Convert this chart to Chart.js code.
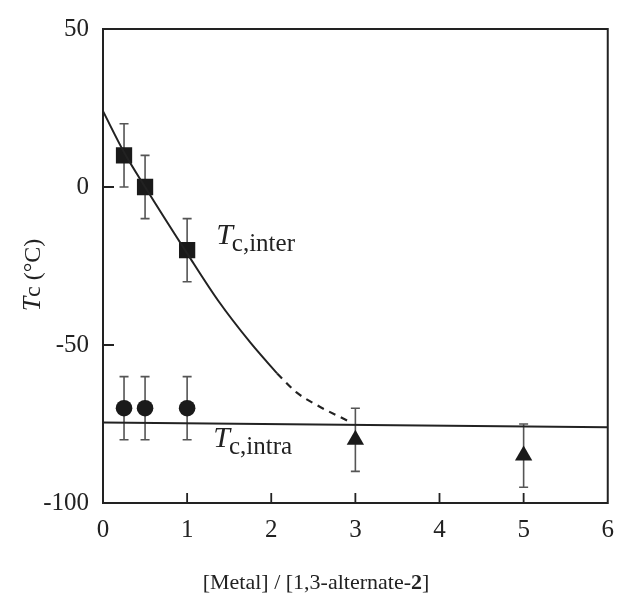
<!DOCTYPE html>
<html>
<head>
<meta charset="utf-8">
<script src="https://cdn.jsdelivr.net/npm/chart.js@4"></script>
<style>
  html, body { margin: 0; padding: 0; background: #fff; }
  #wrap { width: 626px; height: 596px; }
</style>
</head>
<body>
<div id="wrap"><canvas id="graphique"></canvas></div>
<script>
// Points mesures (carres = Tc,inter ; ronds et triangles = Tc,intra)
const carreX = [0.25, 0.5, 1];
const carreY = [10, 0, -20];
const carreErr = [10, 10, 10];

const rondX = [0.25, 0.5, 1];
const rondY = [-70, -70, -70];
const rondErr = [10, 10, 10];

const triangleX = [3, 5];
const triangleY = [-80, -85];
const triangleErr = [10, 10];

// Courbe Tc,inter (partie pleine puis pointillee)
const interX = [0, 0.25, 0.5, 1, 1.37, 1.76, 2.07];
const interY = [24, 11, 0, -21, -36, -49.5, -59];
const interPointilleX = [2.07, 2.3, 2.54, 2.91];
const interPointilleY = [-59, -65, -69, -74];

// Droite Tc,intra
const intraX = [0, 6];
const intraY = [-74.5, -76];

const xTicks = [0, 1, 2, 3, 4, 5, 6];
const yTicks = [50, 0, -50, -100];

const police = "Liberation Serif, Times New Roman, serif";
const encre = "#222";

function points(xs, ys) {
  return xs.map((x, i) => ({ x: x, y: ys[i] }));
}

// Barres d'erreur, cadre, graduations internes et textes
const decor = {
  id: "decor",
  beforeDatasetsDraw(chart) {
    const ctx = chart.ctx;
    const sx = chart.scales.x, sy = chart.scales.y;
    const series = [[carreX, carreY, carreErr], [rondX, rondY, rondErr], [triangleX, triangleY, triangleErr]];
    ctx.save();
    ctx.strokeStyle = "#555";
    ctx.lineWidth = 1.6;
    for (const [xs, ys, es] of series) {
      for (let i = 0; i < xs.length; i++) {
        const px = sx.getPixelForValue(xs[i]);
        const haut = sy.getPixelForValue(ys[i] + es[i]);
        const bas = sy.getPixelForValue(ys[i] - es[i]);
        ctx.beginPath();
        ctx.moveTo(px, haut); ctx.lineTo(px, bas);
        ctx.moveTo(px - 4.5, haut); ctx.lineTo(px + 4.5, haut);
        ctx.moveTo(px - 4.5, bas); ctx.lineTo(px + 4.5, bas);
        ctx.stroke();
      }
    }
    ctx.restore();
  },
  afterDraw(chart) {
    const ctx = chart.ctx;
    const a = chart.chartArea;
    const sx = chart.scales.x, sy = chart.scales.y;
    ctx.save();
    // cadre
    ctx.strokeStyle = encre;
    ctx.lineWidth = 2;
    ctx.strokeRect(a.left, a.top, a.right - a.left, a.bottom - a.top);
    // graduations vers l'interieur
    ctx.lineWidth = 1.8;
    ctx.beginPath();
    for (let v = 1; v <= 5; v++) {
      const px = sx.getPixelForValue(v);
      ctx.moveTo(px, a.bottom); ctx.lineTo(px, a.bottom - 10);
    }
    for (const v of [0, -50]) {
      const py = sy.getPixelForValue(v);
      ctx.moveTo(a.left, py); ctx.lineTo(a.left + 11, py);
    }
    ctx.stroke();

    ctx.fillStyle = encre;
    ctx.textBaseline = "alphabetic";
    ctx.textAlign = "left";
    // etiquette Tc,inter
    let x0 = sx.getPixelForValue(1.345), y0 = sy.getPixelForValue(-18);
    ctx.font = "italic 30px " + police;
    ctx.fillText("T", x0, y0);
    let w = ctx.measureText("T").width;
    ctx.font = "25px " + police;
    ctx.fillText("c,inter", x0 + w - 1, y0 + 7);
    // etiquette Tc,intra
    x0 = sx.getPixelForValue(1.31); y0 = sy.getPixelForValue(-82.3);
    ctx.font = "italic 30px " + police;
    ctx.fillText("T", x0, y0);
    w = ctx.measureText("T").width;
    ctx.font = "25px " + police;
    ctx.fillText("c,intra", x0 + w - 1, y0 + 7);

    // titre de l'axe x avec le 2 en gras
    const morceaux = [["[Metal] / [1,3-alternate-", "22px "], ["2", "bold 22px "], ["]", "22px "]];
    let total = 0;
    for (const [t, f] of morceaux) { ctx.font = f + police; total += ctx.measureText(t).width; }
    let cx = 316 - total / 2;
    for (const [t, f] of morceaux) {
      ctx.font = f + police;
      ctx.fillText(t, cx, 589);
      cx += ctx.measureText(t).width;
    }

    // titre de l'axe y : Tc (°C)
    ctx.translate(40, 275);
    ctx.rotate(-Math.PI / 2);
    ctx.font = "italic 26px " + police;
    const wT = ctx.measureText("T").width;
    ctx.font = "24px " + police;
    const reste = "c (\u00b0C)";
    const wR = ctx.measureText(reste).width;
    const debut = -(wT + wR) / 2;
    ctx.font = "italic 26px " + police;
    ctx.fillText("T", debut, 0);
    ctx.font = "24px " + police;
    ctx.fillText(reste, debut + wT, 0);
    ctx.restore();
  }
};

const data = {
  datasets: [
    {
      label: "Tc,inter",
      data: points(interX, interY),
      showLine: true,
      borderColor: encre,
      borderWidth: 2,
      pointRadius: 0,
      cubicInterpolationMode: "monotone",
    },
    {
      label: "Tc,inter (extrapolation)",
      data: points(interPointilleX, interPointilleY),
      showLine: true,
      borderColor: encre,
      borderWidth: 2.2,
      borderDash: [7, 6],
      pointRadius: 0,
      cubicInterpolationMode: "monotone",
    },
    {
      label: "Tc,intra",
      data: points(intraX, intraY),
      showLine: true,
      borderColor: encre,
      borderWidth: 2,
      pointRadius: 0,
    },
    {
      label: "carres",
      data: points(carreX, carreY),
      pointStyle: "rect",
      pointRadius: 11.5,
      backgroundColor: "#1a1a1a",
      borderColor: "#1a1a1a",
      borderWidth: 0,
    },
    {
      label: "ronds",
      data: points(rondX, rondY),
      pointStyle: "circle",
      pointRadius: 8.3,
      backgroundColor: "#1a1a1a",
      borderColor: "#1a1a1a",
      borderWidth: 0,
    },
    {
      label: "triangles",
      data: points(triangleX, triangleY),
      pointStyle: "triangle",
      pointRadius: 10,
      backgroundColor: "#1a1a1a",
      borderColor: "#1a1a1a",
      borderWidth: 0,
    },
  ],
};

const config = {
  type: "scatter",
  data: data,
  options: {
    responsive: true,
    maintainAspectRatio: false,
    animation: false,
    layout: { padding: { top: 27, right: 10, left: 0, bottom: 0 } },
    plugins: {
      legend: { display: false },
      tooltip: { enabled: false },
    },
    scales: {
      x: {
        type: "linear",
        min: 0,
        max: 6,
        afterBuildTicks: (s) => { s.ticks = xTicks.map(v => ({ value: v })); },
        afterFit: (s) => { s.height = 93; },
        grid: { display: false, drawTicks: false },
        border: { display: false },
        ticks: { color: encre, padding: 12, font: { family: police, size: 25 } },
      },
      y: {
        type: "linear",
        min: -100,
        max: 50,
        afterBuildTicks: (s) => { s.ticks = yTicks.map(v => ({ value: v })); },
        afterFit: (s) => { s.width = 103; },
        grid: { display: false, drawTicks: false },
        border: { display: false },
        ticks: { color: encre, padding: 14, font: { family: police, size: 25 } },
      },
    },
  },
  plugins: [decor],
};

new Chart(document.querySelector("#graphique"), config);
</script>
</body>
</html>
